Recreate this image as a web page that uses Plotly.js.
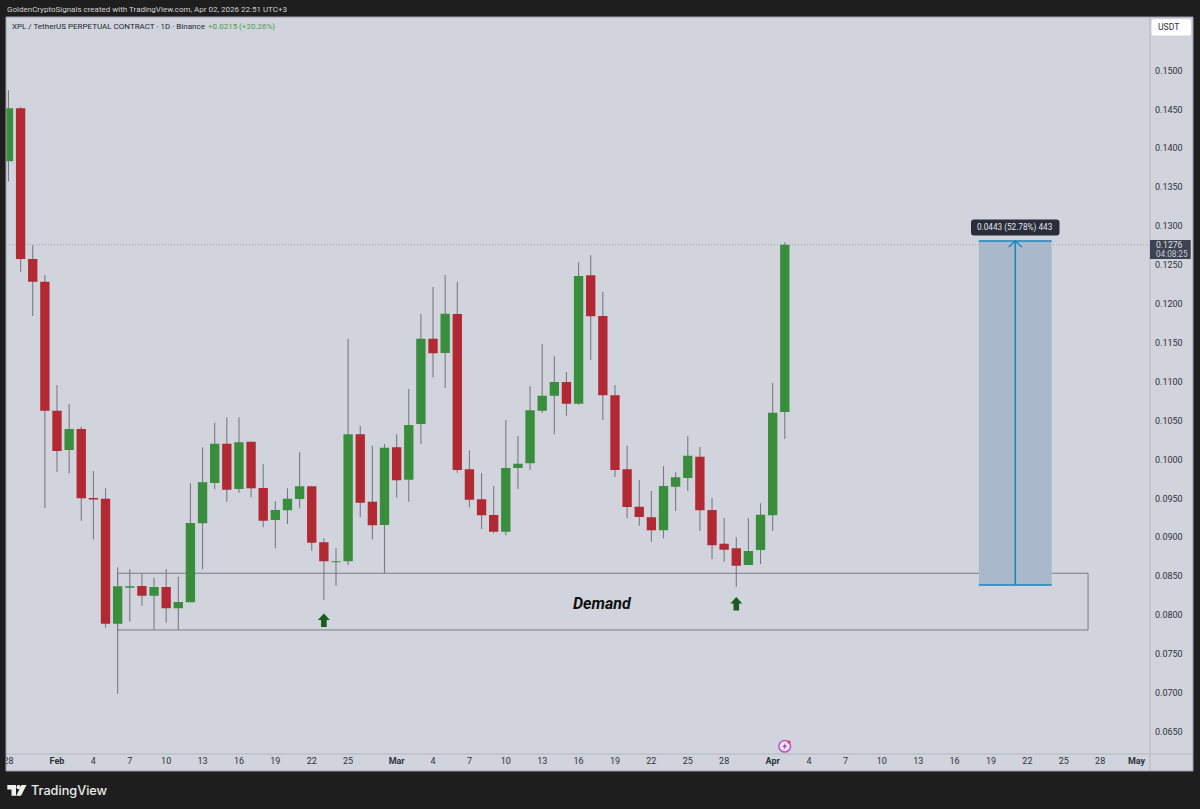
<!DOCTYPE html>
<html>
<head>
<meta charset="utf-8">
<script src="https://cdn.plot.ly/plotly-3.0.1.min.js"></script>
<style>html,body{margin:0;padding:0;background:#1e1e1e;overflow:hidden}#c{width:1200px;height:809px}</style>
</head>
<body>
<div id="c"></div>
<script>
const dates=["2026-01-28","2026-01-29","2026-01-30","2026-01-31","2026-02-01","2026-02-02","2026-02-03","2026-02-04","2026-02-05","2026-02-06","2026-02-07","2026-02-08","2026-02-09","2026-02-10","2026-02-11","2026-02-12","2026-02-13","2026-02-14","2026-02-15","2026-02-16","2026-02-17","2026-02-18","2026-02-19","2026-02-20","2026-02-21","2026-02-22","2026-02-23","2026-02-24","2026-02-25","2026-02-26","2026-02-27","2026-02-28","2026-03-01","2026-03-02","2026-03-03","2026-03-04","2026-03-05","2026-03-06","2026-03-07","2026-03-08","2026-03-09","2026-03-10","2026-03-11","2026-03-12","2026-03-13","2026-03-14","2026-03-15","2026-03-16","2026-03-17","2026-03-18","2026-03-19","2026-03-20","2026-03-21","2026-03-22","2026-03-23","2026-03-24","2026-03-25","2026-03-26","2026-03-27","2026-03-28","2026-03-29","2026-03-30","2026-03-31","2026-04-01","2026-04-02"];
const open=[.13833,.14514,.12577,.12285,.10627,.10122,.10392,.09505,.09496,.0789,.08352,.08374,.0825,.08361,.08088,.08165,.0918,.09698,.10203,.09621,.10229,.09634,.09222,.09347,.09492,.09656,.08936,.0868,.08692,.10324,.09458,.09158,.10157,.09741,.10456,.11553,.11369,.1187,.09874,.09489,.09287,.09072,.09891,.09951,.10627,.1082,.10996,.10717,.12368,.11845,.10825,.09874,.09394,.09257,.0909,.09651,.09762,.10036,.09351,.08918,.08859,.08644,.08837,.09283,.1061];
const high=[.14749,.14535,.12757,.12372,.10958,.10714,.10422,.09852,.0963,.08615,.08589,.08538,.08481,.08589,.08494,.09694,.10157,.10473,.10543,.10543,.10229,.09938,.09467,.0963,.10093,.09656,.08987,.08863,.11549,.10435,.10178,.10199,.10324,.10906,.1187,.12217,.12372,.12285,.10118,.09827,.09659,.10508,.10302,.10941,.11485,.11327,.11125,.12535,.12625,.12157,.10958,.10178,.09737,.09595,.09917,.09836,.10302,.10161,.09505,.09248,.09,.09244,.09437,.10987,.12792];
const low=[.13571,.12414,.11845,.09377,.09843,.09823,.09214,.08975,.07838,.06986,.07915,.08117,.07809,.07903,.07809,.08165,.08589,.09617,.09458,.09573,.09514,.09129,.08859,.09171,.09373,.08828,.08194,.08378,.08644,.09257,.08975,.08538,.09509,.09458,.10199,.11057,.10919,.09831,.09386,.09107,.09052,.09026,.09621,.09865,.10598,.10324,.10563,.10705,.11279,.10508,.09775,.09244,.09145,.0894,.08987,.09338,.09595,.09081,.08721,.08687,.08365,.08644,.08657,.09081,.10264];
const close=[.14514,.12577,.12285,.10627,.10109,.10392,.09501,.09486,.0789,.0837,.0837,.0825,.08361,.08088,.08169,.09184,.09707,.10203,.09612,.10221,.0963,.09214,.09351,.09496,.09656,.08931,.08692,.08692,.10324,.09445,.09154,.10152,.09733,.10444,.11553,.11365,.11874,.09865,.09483,.09283,.09072,.09891,.09946,.10633,.1082,.10996,.10717,.12359,.11841,.10825,.09865,.0939,.09261,.0909,.09659,.09771,.10049,.09347,.08897,.08841,.08635,.08824,.09291,.10602,.1276];

const priceTicks=[.15,.145,.14,.135,.13,.125,.12,.115,.11,.105,.1,.095,.09,.085,.08,.075,.07,.065];
const timeTicks=["2026-01-28","2026-02-01","2026-02-04","2026-02-07","2026-02-10","2026-02-13","2026-02-16","2026-02-19","2026-02-22","2026-02-25","2026-03-01","2026-03-04","2026-03-07","2026-03-10","2026-03-13","2026-03-16","2026-03-19","2026-03-22","2026-03-25","2026-03-28","2026-04-01","2026-04-04","2026-04-07","2026-04-10","2026-04-13","2026-04-16","2026-04-19","2026-04-22","2026-04-25","2026-04-28","2026-05-01"];
const timeLabels=["28","<b>Feb</b>","4","7","10","13","16","19","22","25","<b>Mar</b>","4","7","10","13","16","19","22","25","28","<b>Apr</b>","4","7","10","13","16","19","22","25","28","<b>May</b>"];

const demandZone={from:"2026-02-06",to:"2026-04-27",top:.08538,bottom:.07809};
const measure={from:"2026-04-18",mid:"2026-04-21",to:"2026-04-24",top:.12809,bottom:.08387};
const lastPrice=.1276;
const signalArrows=[{x:"2026-02-23",y:.0802},{x:"2026-03-29",y:.08233}];

const BG="#d1d4dc",DARK="#1e1e1e",UP="#388e3c",DOWN="#b22833",WICK="#787b86",BLUE="#1b85bd";
const L=6,R=1150,T=17,B=754,FONT="Roboto, Inter, sans-serif";
const px=v=>(v-L)/(R-L), py=v=>(B-v)/(B-T);
const rectPx=(x0,y0,x1,y1,fill,layer,line)=>({type:"rect",xref:"paper",yref:"paper",x0:px(x0),x1:px(x1),y0:py(y0),y1:py(y1),fillcolor:fill,line:line||{width:0},layer:layer||"above"});
const linePx=(x0,y0,x1,y1,color,w,layer)=>({type:"line",xref:"paper",yref:"paper",x0:px(x0),x1:px(x1),y0:py(y0),y1:py(y1),line:{color:color,width:w||1},layer:layer||"below"});
const polyPx=(pts,fill,layer)=>({type:"path",xref:"paper",yref:"paper",path:"M"+pts.map(p=>px(p[0])+" "+py(p[1])).join(" L")+" Z",fillcolor:fill,line:{width:0},layer:layer||"above"});
const circlePx=(cx,cy,r,fill,stroke,w)=>({type:"circle",xref:"paper",yref:"paper",x0:px(cx-r),x1:px(cx+r),y0:py(cy-r),y1:py(cy+r),fillcolor:fill,line:stroke?{color:stroke,width:w}:{width:0},layer:"above"});
function roundPx(x0,y0,x1,y1,r,fill){
  const P=(x,y)=>px(x)+" "+py(y);
  const q=(cx,cy,x,y)=>"Q"+P(cx,cy)+" "+P(x,y);
  return {type:"path",xref:"paper",yref:"paper",fillcolor:fill,line:{width:0},layer:"above",
    path:"M"+P(x0+r,y0)+" L"+P(x1-r,y0)+" "+q(x1,y0,x1,y0+r)+" L"+P(x1,y1-r)+" "+q(x1,y1,x1-r,y1)+" L"+P(x0+r,y1)+" "+q(x0,y1,x0,y1-r)+" L"+P(x0,y0+r)+" "+q(x0,y0,x0+r,y0)+" Z"};
}
const textPx=(x,y,text,size,color,anchor,extra)=>Object.assign({xref:"paper",yref:"paper",x:px(x),y:py(y),text:text,showarrow:false,xanchor:anchor||"left",yanchor:"middle",font:{family:FONT,size:size,color:color},borderpad:0},extra||{});

const arrowShape=a=>({type:"path",xref:"x",yref:"y",xsizemode:"pixel",ysizemode:"pixel",xanchor:a.x,yanchor:a.y,
  path:"M0 0 L6 -6.5 L2.8 -6.5 L2.8 -13.5 L-2.8 -13.5 L-2.8 -6.5 L-6 -6.5 Z",fillcolor:"#1a5c1f",line:{width:0},layer:"above"});

const shapes=[
  rectPx(6,17,1193,771,BG,"below"),
  {type:"rect",xref:"x",yref:"y",x0:demandZone.from,x1:demandZone.to,y0:demandZone.bottom,y1:demandZone.top,fillcolor:"rgba(0,0,0,0)",line:{color:WICK,width:1},layer:"below"},
  {type:"rect",xref:"x",yref:"y",x0:measure.from,x1:measure.to,y0:measure.bottom,y1:measure.top,fillcolor:"#a9b8cb",line:{width:0},layer:"below"},
  {type:"line",xref:"paper",yref:"y",x0:0,x1:1,y0:lastPrice,y1:lastPrice,line:{color:"#8e919b",width:0.8,dash:"1px,2px"},layer:"below"},
  {type:"line",xref:"x",yref:"y",x0:measure.from,x1:measure.to,y0:measure.top,y1:measure.top,line:{color:BLUE,width:1.6},layer:"above"},
  {type:"line",xref:"x",yref:"y",x0:measure.from,x1:measure.to,y0:measure.bottom,y1:measure.bottom,line:{color:BLUE,width:1.6},layer:"above"},
  {type:"line",xref:"x",yref:"y",x0:measure.mid,x1:measure.mid,y0:measure.bottom,y1:measure.top,line:{color:BLUE,width:1.6},layer:"above"},
  {type:"path",xref:"x",yref:"y",xsizemode:"pixel",ysizemode:"pixel",xanchor:measure.mid,yanchor:measure.top,path:"M-6.5 -6 L0 0 L6.5 -6",line:{color:BLUE,width:1.4},layer:"above"},
  linePx(6,754,1193,754,"#b4b7c1",1),
  linePx(1150,17,1150,771,"#b4b7c1",1),
  rectPx(0,754,6,772,DARK,"above"),
  roundPx(971,219.5,1059.5,235.5,3,"#2a2d3a"),
  rectPx(1150,240,1190.7,259,"#3f4250","above"),
  roundPx(1151.5,19.3,1191,35.5,2.5,"#ffffff"),
  {type:"rect",xref:"paper",yref:"paper",x0:px(6),x1:px(1193),y0:py(771),y1:py(17),fillcolor:"rgba(0,0,0,0)",line:{color:"#9b9ea8",width:1},layer:"above"},
  circlePx(784.7,746.3,5.8,"#eee5f2","#bb55cc",1.5),
  polyPx([[786,742.8],[782.4,747],[784.4,747],[783.4,749.9],[787,745.6],[785,745.6]],"#a93bbb"),
  circlePx(789,742,1.6,"#e8323c"),
  polyPx([[7.3,785],[16,785],[16,795.7],[11.5,795.7],[11.5,789.5],[7.3,789.5]],"#f0f0f0"),
  circlePx(18.6,787.2,2.1,"#f0f0f0"),
  polyPx([[21.5,785],[26.5,785],[21,795.7],[16.2,795.7]],"#f0f0f0")
].concat(signalArrows.map(arrowShape));

const annotations=[
  textPx(6,9.7,"GoldenCryptoSignals created with TradingView.com, Apr 02, 2026 22:51 UTC+3",8,"#d2d2d2"),
  textPx(11,26.7,"XPL / TetherUS PERPETUAL CONTRACT · 1D · Binance",8,"#23262f"),
  textPx(207,26.7,"+0.0215 (+20.26%)",8,"#4c9c50"),
  textPx(1015.2,227.5,"0.0443 (52.78%) 443",8.2,"#e4e5ea","center"),
  textPx(1155,245.3,"0.1276",8.6,"#dfe0e6"),
  textPx(1155,254,"04:08:25",8.2,"#c9cbd3"),
  textPx(1157,27.3,"USDT",8.6,"#2a2e39"),
  textPx(602.5,603,"<b><i>Demand</i></b>",16,"#101010","center"),
  textPx(30,790.5,"TradingView",12.7,"#ececec","left",{font:{family:"Inter, Roboto, sans-serif",size:12.7,color:"#ececec",weight:500}})
];

const traces=[
  {type:"bar",x:dates,base:low,y:high.map((h,i)=>h-low[i]),width:86400000/12.13*1.1,marker:{color:WICK,line:{width:0}},hoverinfo:"skip",showlegend:false},
  {type:"candlestick",x:dates,open:open,high:high,low:low,close:close,showlegend:false,whiskerwidth:0,
   increasing:{fillcolor:UP,line:{color:UP,width:0}},decreasing:{fillcolor:DOWN,line:{color:DOWN,width:0}}}
];

const layout={width:1200,height:809,margin:{l:L,r:1200-R,t:T,b:809-B,pad:0},paper_bgcolor:DARK,plot_bgcolor:BG,
  showlegend:false,barmode:"overlay",boxgap:0.23,boxgroupgap:0,hovermode:false,dragmode:false,
  font:{family:FONT,size:9,color:"#2f323d"},
  xaxis:{type:"date",range:["2026-01-27 19:06","2026-05-02 02:34"],tickmode:"array",tickvals:timeTicks,ticktext:timeLabels,tickangle:0,
    showgrid:false,zeroline:false,showline:false,ticks:"",rangeslider:{visible:false},tickfont:{family:FONT,size:9,color:"#2f323d"},automargin:false,ticklabeloverflow:"allow"},
  yaxis:{side:"right",range:[.062149,.156876],tickmode:"array",tickvals:priceTicks,ticktext:priceTicks.map(v=>v.toFixed(4)),
    showgrid:false,zeroline:false,showline:false,ticks:"",tickfont:{family:FONT,size:9,color:"#2f323d"},automargin:false,ticklabelstandoff:4},
  shapes:shapes,annotations:annotations};

Plotly.newPlot("c",traces,layout,{staticPlot:true,displayModeBar:false});
</script>
</body>
</html>
